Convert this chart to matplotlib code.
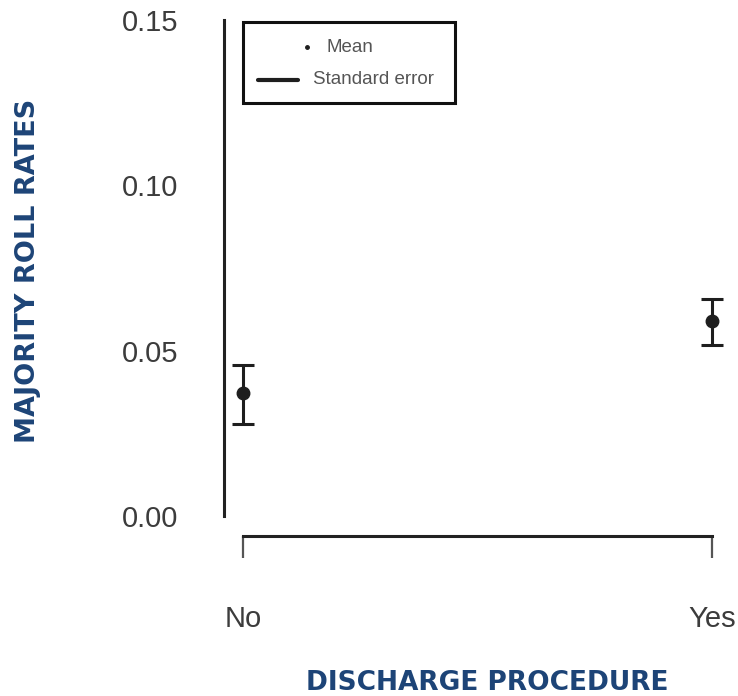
import matplotlib
matplotlib.use('Agg')
import matplotlib.pyplot as plt
from matplotlib.patches import Rectangle

groups = ['No', 'Yes']
means = [0.0372, 0.0590]
se_low = [0.0278, 0.0517]
se_high = [0.0457, 0.0656]
yticks = [0.00, 0.05, 0.10, 0.15]
ytick_labels = ['0.00', '0.05', '0.10', '0.15']

navy = '#1d4477'
ink = '#1e1e1e'
grey = '#3c3c3c'

fig = plt.figure(figsize=(7.38, 6.96), dpi=100)
ax = fig.add_axes([224/738, 1 - 536/696, 507/738, 536/696])

x = [1, 2]
err = [[m - lo for m, lo in zip(means, se_low)],
       [hi - m for m, hi in zip(means, se_high)]]
ax.errorbar(x, means, yerr=err, fmt='o', color=ink, markersize=9,
            elinewidth=2.2, capsize=8, capthick=2.2)

# R style: 4% padding, detached axes
ax.set_xlim(0.96, 2.04)
ax.set_ylim(-0.006, 0.156)
for s in ['top', 'right']:
    ax.spines[s].set_visible(False)
ax.spines['left'].set_bounds(0, 0.15)
ax.spines['bottom'].set_bounds(1, 2)
ax.spines['left'].set_linewidth(2.2)
ax.spines['bottom'].set_linewidth(2.2)
ax.spines['left'].set_color('#222222')
ax.spines['bottom'].set_color('#222222')

ax.set_yticks(yticks)
ax.set_yticklabels(ytick_labels)
ax.set_xticks(x)
ax.set_xticklabels(groups)
ax.tick_params(axis='y', length=0, pad=33, labelsize=21, labelcolor=grey)
ax.tick_params(axis='x', length=16, width=1.6, color='#555555', pad=34,
               labelsize=21, labelcolor=grey)
for lab in ax.get_xticklabels() + ax.get_yticklabels():
    lab.set_family('Liberation Sans')

# legend box drawn R-style
ax.add_patch(Rectangle((0.0375, 0.808), 0.418, 0.151, transform=ax.transAxes,
                       fill=False, lw=2.2, edgecolor='#111111', clip_on=False))
ax.plot([0.1637], [0.912], 'o', color=ink, markersize=2.5, transform=ax.transAxes)
ax.text(0.2012, 0.912, 'Mean', transform=ax.transAxes, va='center', ha='left',
        fontsize=13.5, color='#555555', family='Liberation Sans')
ax.plot([0.067, 0.146], [0.851, 0.851], color=ink, lw=3, transform=ax.transAxes,
        solid_capstyle='round')
ax.text(0.1755, 0.851, 'Standard error', transform=ax.transAxes, va='center',
        ha='left', fontsize=13.5, color='#555555', family='Liberation Sans')

fig.text(28/738, 1 - 271/696, 'MAJORITY ROLL RATES', rotation=90, ha='center',
         va='center', fontsize=19.5, fontweight='bold', color=navy, family='DejaVu Sans')
fig.text(487/738, 1 - 683/696, 'DISCHARGE PROCEDURE', ha='center', va='center',
         fontsize=19, fontweight='bold', color=navy, family='DejaVu Sans')

fig.savefig('out.png', dpi=100)
